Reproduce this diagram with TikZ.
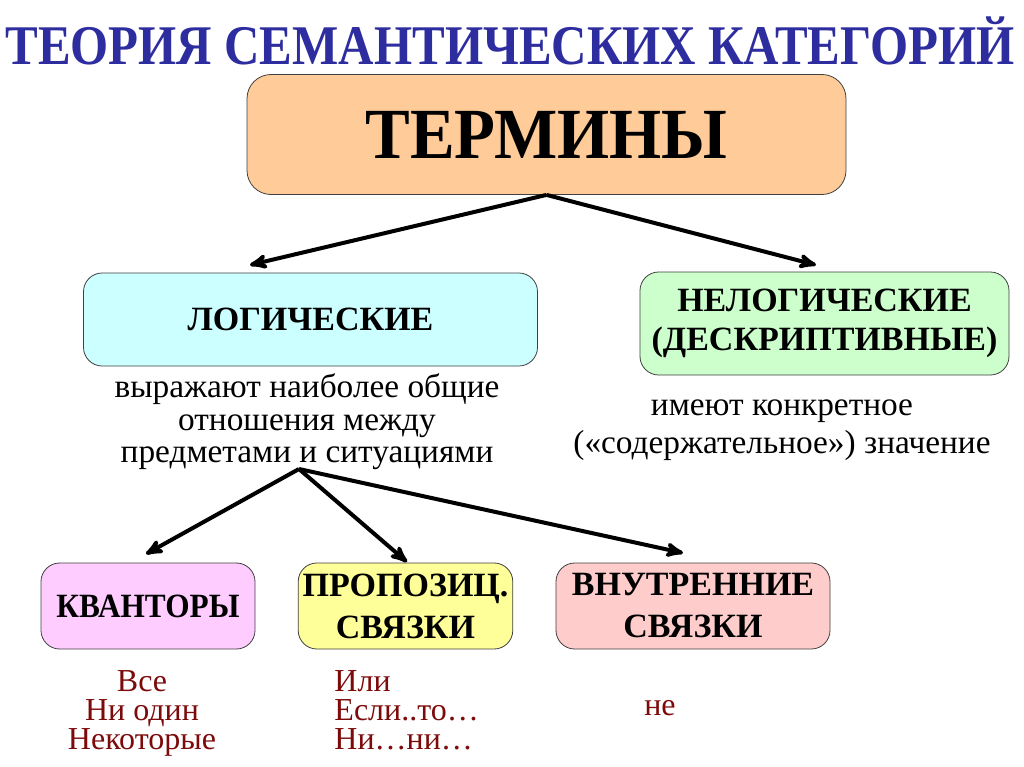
\documentclass[tikz,border=0pt]{standalone}
\usepackage{fontspec}
\setmainfont{Liberation Serif}
\usetikzlibrary{arrows}

\definecolor{titleblue}{RGB}{45,45,160}
\definecolor{termfill}{RGB}{255,204,153}
\definecolor{logfill}{RGB}{204,255,255}
\definecolor{nonlogfill}{RGB}{204,255,204}
\definecolor{quantfill}{RGB}{255,204,255}
\definecolor{propfill}{RGB}{255,255,153}
\definecolor{innerfill}{RGB}{255,204,204}
\definecolor{listred}{RGB}{125,10,10}

\begin{document}
\begin{tikzpicture}[x=0.75pt,y=-0.75pt,line width=3pt,
    termbox/.style={draw=black!75,line width=0.6pt,rounded corners=14pt,align=center,
      font=\bfseries\fontsize{25.5}{29}\selectfont},
    desctext/.style={align=center,font=\fontsize{25}{24.4}\selectfont},
    listtext/.style={text=listred,font=\fontsize{24}{21.75}\selectfont},
    link/.style={->,>=stealth'}]

  \fill[white] (0,0) rectangle (1024,767);

  \node[text=titleblue,font=\bfseries\fontsize{42}{42}\selectfont] (title) at (510,41)
    {\scalebox{0.875}[1]{ТЕОРИЯ СЕМАНТИЧЕСКИХ КАТЕГОРИЙ}};

  \node[termbox,fill=termfill,minimum width=449.25pt,minimum height=90pt,rounded corners=18pt,
    font=\bfseries\fontsize{54}{54}\selectfont] (term) at (546.5,134.5) {\scalebox{0.93}[1]{ТЕРМИНЫ}};

  \node[termbox,fill=logfill,minimum width=340.5pt,minimum height=69.75pt] (logic) at (310.5,319.5)
    {ЛОГИЧЕСКИЕ};
  \node[termbox,fill=nonlogfill,minimum width=276.75pt,minimum height=77.25pt] (nonlogic) at (824.5,323.5)
    {НЕЛОГИЧЕСКИЕ\\(ДЕСКРИПТИВНЫЕ)};

  \node[desctext] (logdesc) at (307,422) {выражают наиболее общие\\отношения между\\предметами и ситуациями};
  \node[desctext,font=\fontsize{25}{28.5}\selectfont] (nondesc) at (782,430)
    {имеют конкретное\\(«содержательное») значение};

  \node[termbox,fill=quantfill,minimum width=160.5pt,minimum height=64.5pt] (quant) at (148,606)
    {\scalebox{0.92}[1]{КВАНТОРЫ}};
  \node[termbox,fill=propfill,minimum width=159.75pt,minimum height=64.5pt,
    font=\bfseries\fontsize{25.5}{31.5}\selectfont] (prop) at (405.5,606) {ПРОПОЗИЦ.\\СВЯЗКИ};
  \node[termbox,fill=innerfill,minimum width=205.5pt,minimum height=64.5pt,
    font=\bfseries\fontsize{25.5}{31.5}\selectfont] (inner) at (693,606) {ВНУТРЕННИЕ\\СВЯЗКИ};

  \node[listtext,align=center] (quantlist) at (142,713) {Все\\Ни один\\Некоторые};
  \node[listtext,align=left,anchor=west] (proplist) at (328,710) {Или\\Если..то…\\Ни…ни…};
  \node[listtext] (innerlist) at (660,708) {не};

  \coordinate (logtip) at (250,265);
  \coordinate (nonlogtip) at (816,265);
  \coordinate (fork) at (299,469);
  \coordinate (quanttip) at (146,554);
  \coordinate (proptip) at (407,562);
  \coordinate (innertip) at (683,553);

  \draw[link] (term.south) -- (logtip);
  \draw[link] (term.south) -- (nonlogtip);
  \draw[link] (fork) -- (quanttip);
  \draw[link] (fork) -- (proptip);
  \draw[link] (fork) -- (innertip);
\end{tikzpicture}
\end{document}
